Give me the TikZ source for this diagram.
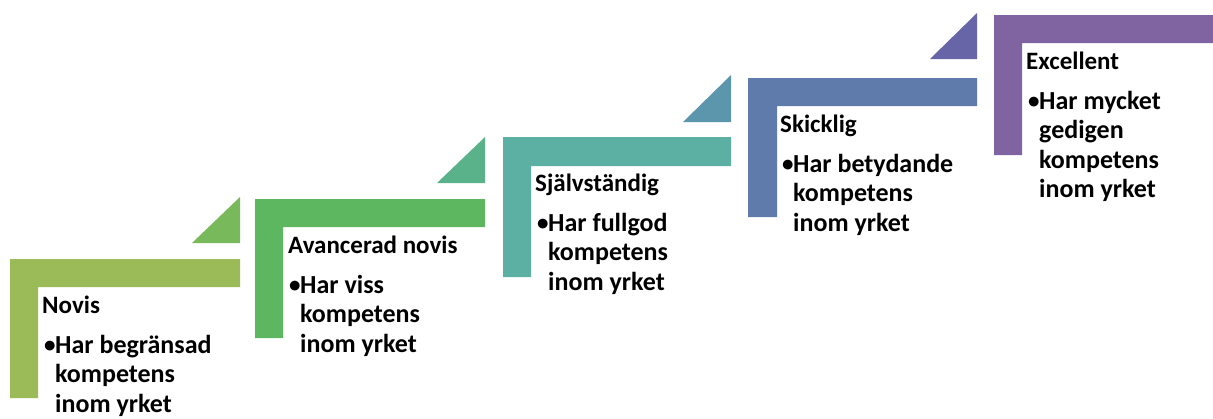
\documentclass[tikz,border=0pt]{standalone}
\usepackage{fontspec}
\setmainfont{Carlito}
\usepackage{tikz}

\definecolor{novis}{HTML}{9BBB59}
\definecolor{triA}{HTML}{77B95B}
\definecolor{avancerad}{HTML}{5DB760}
\definecolor{triB}{HTML}{5AB28A}
\definecolor{sjalv}{HTML}{5CB0A3}
\definecolor{triC}{HTML}{5B96AD}
\definecolor{skicklig}{HTML}{5F7BAC}
\definecolor{triD}{HTML}{6864A8}
\definecolor{excellent}{HTML}{8064A2}

\newcommand{\steplines}[1]{\begin{tabular}[t]{@{}l@{}}#1\end{tabular}}

\tikzset{
	stepbar/.style={fill=#1,draw=none},
	steptri/.style={fill=#1,draw=none},
	head/.style={anchor=base west,inner sep=0pt,font=\fontsize{25}{29.5}\selectfont\bfseries},
	dot/.style={anchor=base west,inner sep=0pt,font=\fontsize{23}{29.5}\selectfont\bfseries},
	body/.style={anchor=base west,inner sep=0pt,font=\fontsize{26}{29.5}\selectfont\bfseries}
}

\begin{document}
\begin{tikzpicture}[x=1pt,y=-1pt]
	\useasboundingbox (0,0) rectangle (1213,418);
	% Novis
	\fill[stepbar=novis] (10,259) -- (240,259) -- (240,287) -- (38,287) -- (38,398) -- (10,398) -- cycle;
	\fill[steptri=triA] (240,197) -- (240,243) -- (192,243) -- cycle;
	\node[head] (novis) at (42,313) {Novis};
	\node[dot] (novisdot) at (44,352) {\textbullet};
	\node[body] (novistxt) at (55,353) {\steplines{Har begränsad\\kompetens\\inom yrket}};
	%
	% Avancerad novis
	\fill[stepbar=avancerad] (255,199) -- (485,199) -- (485,227) -- (283,227) -- (283,338) -- (255,338) -- cycle;
	\fill[steptri=triB] (485,137) -- (485,183) -- (437,183) -- cycle;
	\node[head] (avancerad) at (288,253) {Avancerad novis};
	\node[dot] (avanceraddot) at (289,292) {\textbullet};
	\node[body] (avanceradtxt) at (300,293) {\steplines{Har viss\\kompetens\\inom yrket}};
	%
	% Självständig
	\fill[stepbar=sjalv] (503,137) -- (731,137) -- (731,166) -- (531,166) -- (531,277) -- (503,277) -- cycle;
	\fill[steptri=triC] (731,75) -- (731,122) -- (683,122) -- cycle;
	\node[head] (sjalv) at (535,191) {Självständig};
	\node[dot] (sjalvdot) at (537,230) {\textbullet};
	\node[body] (sjalvtxt) at (548,231) {\steplines{Har fullgod\\kompetens\\inom yrket}};
	%
	% Skicklig
	\fill[stepbar=skicklig] (748,78) -- (977,78) -- (977,106) -- (777,106) -- (777,217) -- (748,217) -- cycle;
	\fill[steptri=triD] (977,13) -- (977,59) -- (930,59) -- cycle;
	\node[head] (skicklig) at (780,132) {Skicklig};
	\node[dot] (skickligdot) at (782,171) {\textbullet};
	\node[body] (skickligtxt) at (793,172) {\steplines{Har betydande\\kompetens\\inom yrket}};
	%
	% Excellent
	\fill[stepbar=excellent] (994,15) -- (1213,15) -- (1213,43) -- (1022,43) -- (1022,155) -- (994,155) -- cycle;
	\node[head] (excellent) at (1026,69) {Excellent};
	\node[dot] (excellentdot) at (1028,108) {\textbullet};
	\node[body] (excellenttxt) at (1039,109) {\steplines{Har mycket\\gedigen\\kompetens\\inom yrket}};
\end{tikzpicture}
\end{document}
